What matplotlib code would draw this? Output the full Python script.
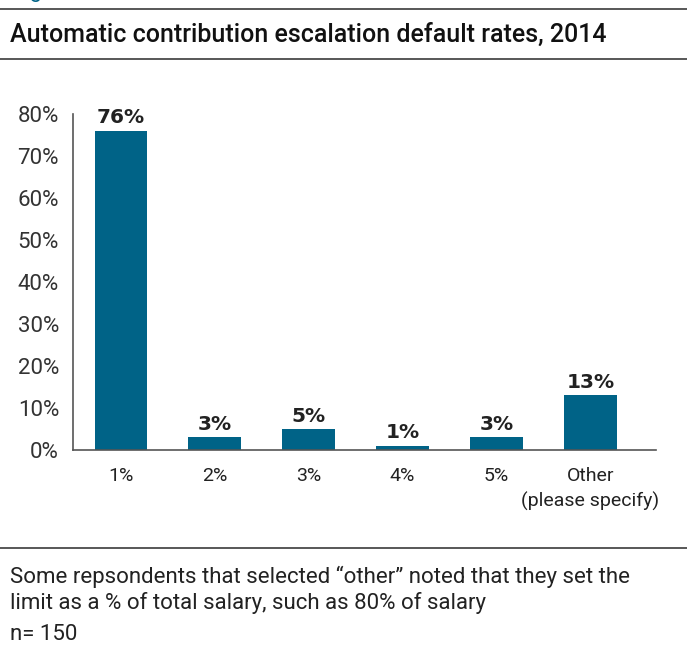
import matplotlib
matplotlib.use("Agg")
import matplotlib.pyplot as plt
from matplotlib.lines import Line2D

W, H = 687, 651
BLUE = "#006387"
INK = "#222222"
RULE = "#4a4a4a"
FONT = "Roboto"

categories = ["1%", "2%", "3%", "4%", "5%", "Other\n(please specify)"]
values = [76, 3, 5, 1, 3, 13]
value_labels = ["76%", "3%", "5%", "1%", "3%", "13%"]
yticks = [0, 10, 20, 30, 40, 50, 60, 70, 80]

fig = plt.figure(figsize=(W / 100, H / 100), dpi=100)


def px_x(x):
    return x / W


def px_y(y):
    return 1 - y / H


# rules across the full width
for y in (9, 59, 548):
    fig.add_artist(Line2D([0, 1], [px_y(y), px_y(y)], transform=fig.transFigure,
                          color=RULE, linewidth=1.3))

# cut-off figure label at the very top (only the descender shows)
fig.text(px_x(12), px_y(-3), "Figure", color=BLUE, fontsize=16, family=FONT,
         va="baseline", ha="left")

fig.text(px_x(10), px_y(35), "Automatic contribution escalation default rates, 2014",
         fontsize=18, color="#111111", family=FONT, fontweight="medium",
         va="center", ha="left")

# ── chart ──────────────────────────────────────────────────────────
ax = fig.add_axes([px_x(73), px_y(450), px_x(656) - px_x(73), px_y(114) - px_y(450)])
x = range(len(categories))
ax.bar(x, values, width=0.56, color=BLUE, zorder=2)
for xi, v, lab in zip(x, values, value_labels):
    ax.annotate(lab, (xi, v), xytext=(0, 2.5), textcoords="offset points",
                ha="center", va="bottom", fontsize=14.5, fontweight="bold",
                color=INK, family="DejaVu Sans")

ax.set_xlim(-0.51, 5.7)
ax.set_ylim(0, 80)
ax.set_yticks(yticks)
ax.set_yticklabels([f"{t}%" for t in yticks], family=FONT)
ax.set_xticks(list(x))
ax.set_xticklabels(categories, family=FONT, fontsize=14, color=INK, linespacing=1.45)
ax.tick_params(axis="y", length=0, pad=10, labelsize=16, labelcolor="#333333")
ax.tick_params(axis="x", length=0, pad=12)
for s in ("top", "right"):
    ax.spines[s].set_visible(False)
for s in ("left", "bottom"):
    ax.spines[s].set_color("#555555")
    ax.spines[s].set_linewidth(1.2)

# ── note ───────────────────────────────────────────────────────────
note = [
    (577, "Some repsondents that selected \u201cother\u201d noted that they set the"),
    (603, "limit as a % of total salary, such as 80% of salary"),
    (635, "n= 150"),
]
for y, line in note:
    fig.text(px_x(10), px_y(y), line, fontsize=16, family=FONT, color=INK, va="center")

fig.savefig("out.png", dpi=100, facecolor="white")
